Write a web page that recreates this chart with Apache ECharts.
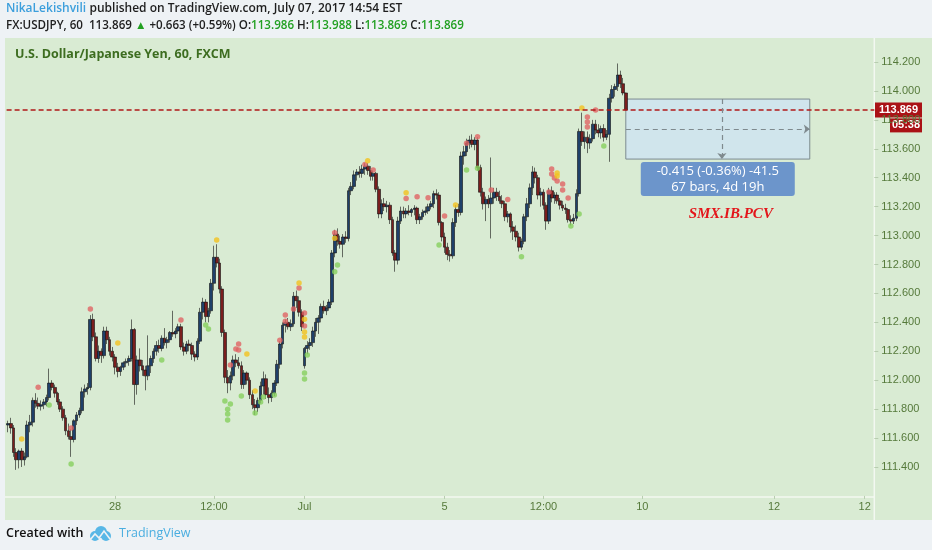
<!DOCTYPE html>
<html><head><meta charset="utf-8">
<script src="https://cdn.jsdelivr.net/npm/echarts/dist/echarts.min.js"></script>
<style>html,body{margin:0;padding:0;background:#eef2f5;}#c{width:932px;height:550px;}</style>
</head><body><div id="c"></div><script>
// ---- data (USDJPY, 60 min, FXCM) ----
const opens = [111.69,111.70,111.67,111.50,111.45,111.51,111.45,111.47,111.69,111.71,
111.86,111.84,111.82,111.83,111.85,111.88,111.98,111.95,111.91,111.85,
111.80,111.74,111.65,111.61,111.59,111.72,111.76,111.79,111.92,111.94,
111.95,112.42,112.30,112.15,112.20,112.17,112.34,112.28,112.20,112.16,
112.09,112.06,112.09,112.12,112.13,112.15,112.35,111.97,112.14,112.10,
112.07,112.03,112.10,112.15,112.20,112.24,112.22,112.29,112.26,112.28,
112.33,112.32,112.34,112.37,112.23,112.20,112.25,112.24,112.18,112.16,
112.27,112.47,112.54,112.44,112.48,112.67,112.85,112.81,112.63,112.33,
112.02,111.98,112.03,112.14,112.12,112.10,111.97,112.05,112.00,111.90,
111.83,111.81,111.86,111.96,112.01,111.90,111.88,111.91,111.98,112.11,
112.25,112.38,112.40,112.37,112.39,112.58,112.55,112.47,112.10,112.22,
112.24,112.26,112.34,112.40,112.43,112.51,112.48,112.50,112.54,112.88,
113.01,112.96,112.94,112.99,112.98,113.31,113.34,113.42,113.44,113.43,
113.46,113.48,113.45,113.41,113.43,113.32,113.15,113.22,113.20,113.21,
113.11,112.88,112.83,113.10,113.17,113.15,113.17,113.16,113.18,113.19,
113.11,113.13,113.16,113.17,113.20,113.22,113.29,113.28,113.09,112.99,
112.92,112.87,112.86,113.09,113.18,113.16,113.55,113.58,113.64,113.66,
113.63,113.66,113.47,113.30,113.22,113.25,113.22,113.26,113.30,113.27,
113.24,113.22,113.13,113.15,113.06,113.03,112.99,112.92,112.96,113.13,
113.22,113.33,113.44,113.40,113.28,113.30,113.21,113.10,113.31,113.26,
113.28,113.24,113.21,113.19,113.18,113.11,113.10,113.12,113.29,113.72,
113.65,113.68,113.64,113.67,113.77,113.73,113.71,113.74,113.68,113.70,
113.95,114.01,114.03,114.11,114.05,113.986];
const closes = [111.70,111.67,111.50,111.45,111.51,111.45,111.47,111.69,111.71,111.86,
111.84,111.82,111.83,111.85,111.88,111.98,111.95,111.91,111.85,111.80,
111.74,111.65,111.61,111.59,111.72,111.76,111.79,111.92,111.94,111.95,
112.42,112.30,112.15,112.20,112.17,112.34,112.28,112.20,112.16,112.09,
112.06,112.09,112.12,112.13,112.15,112.35,111.97,112.14,112.10,112.07,
112.03,112.10,112.15,112.20,112.24,112.22,112.29,112.26,112.28,112.33,
112.32,112.34,112.37,112.23,112.20,112.25,112.24,112.18,112.16,112.27,
112.47,112.54,112.44,112.48,112.67,112.85,112.81,112.63,112.33,112.02,
111.98,112.03,112.14,112.12,112.10,111.97,112.05,112.00,111.90,111.83,
111.81,111.86,111.96,112.01,111.90,111.88,111.91,111.98,112.11,112.25,
112.38,112.40,112.37,112.39,112.58,112.55,112.47,112.37,112.22,112.24,
112.26,112.34,112.40,112.43,112.51,112.48,112.50,112.54,112.88,113.01,
112.96,112.94,112.99,112.98,113.31,113.34,113.42,113.44,113.43,113.46,
113.48,113.45,113.41,113.43,113.32,113.15,113.22,113.20,113.21,113.11,
112.88,112.83,113.10,113.17,113.15,113.17,113.16,113.18,113.19,113.11,
113.13,113.16,113.17,113.20,113.22,113.29,113.28,113.09,112.99,112.92,
112.87,112.86,113.09,113.18,113.16,113.55,113.58,113.64,113.66,113.63,
113.66,113.47,113.30,113.22,113.25,113.22,113.26,113.30,113.27,113.24,
113.22,113.13,113.15,113.06,113.03,112.99,112.92,112.96,113.13,113.22,
113.33,113.44,113.40,113.28,113.30,113.21,113.10,113.31,113.26,113.28,
113.24,113.21,113.19,113.18,113.11,113.10,113.12,113.29,113.72,113.65,
113.68,113.64,113.67,113.77,113.73,113.71,113.74,113.68,113.70,113.95,
114.01,114.03,114.11,114.05,113.986,113.869];
const highs = [111.72,111.74,111.69,111.53,111.52,111.53,111.50,111.72,111.76,111.88,
111.91,111.88,111.86,111.87,111.90,112.08,112.00,111.97,111.92,111.87,
111.82,111.76,111.70,111.66,111.73,111.78,111.81,111.95,111.97,111.98,
112.45,112.46,112.33,112.24,112.22,112.37,112.37,112.30,112.23,112.18,
112.12,112.10,112.13,112.15,112.17,112.42,112.36,112.17,112.22,112.14,
112.10,112.31,112.17,112.22,112.27,112.28,112.31,112.36,112.30,112.34,
112.48,112.36,112.39,112.39,112.26,112.27,112.28,112.26,112.20,112.29,
112.50,112.57,112.56,112.50,112.70,112.93,112.94,112.84,112.65,112.35,
112.07,112.06,112.17,112.18,112.16,112.13,112.07,112.06,112.02,111.93,
111.87,111.88,111.99,112.06,112.04,111.95,111.93,112.00,112.14,112.27,
112.40,112.42,112.43,112.42,112.61,112.62,112.58,112.49,112.23,112.27,
112.29,112.37,112.43,112.45,112.53,112.55,112.52,112.56,112.90,113.04,
113.05,113.00,113.01,113.03,113.33,113.37,113.45,113.46,113.48,113.49,
113.50,113.50,113.48,113.45,113.44,113.34,113.25,113.26,113.24,113.23,
113.13,112.90,113.13,113.20,113.20,113.19,113.21,113.19,113.21,113.20,
113.15,113.18,113.20,113.22,113.24,113.31,113.32,113.30,113.10,113.02,
112.95,112.90,113.12,113.21,113.22,113.58,113.62,113.67,113.69,113.70,
113.68,113.68,113.49,113.33,113.27,113.28,113.54,113.33,113.33,113.31,
113.28,113.24,113.17,113.16,113.10,113.07,113.02,112.98,113.15,113.26,
113.36,113.48,113.47,113.42,113.33,113.32,113.23,113.33,113.34,113.30,
113.30,113.26,113.24,113.22,113.19,113.14,113.15,113.32,113.74,113.85,
113.72,113.72,113.70,113.80,113.80,113.77,113.76,113.77,113.73,113.98,
114.04,114.05,114.19,114.14,114.09,113.988];
const lows = [111.64,111.63,111.47,111.38,111.39,111.40,111.41,111.46,111.64,111.68,
111.81,111.80,111.79,111.80,111.82,111.86,111.93,111.88,111.83,111.78,
111.72,111.62,111.59,111.47,111.57,111.69,111.74,111.77,111.88,111.90,
111.93,112.27,112.13,112.12,112.12,112.15,112.25,112.17,112.13,112.04,
112.02,112.03,112.07,112.09,112.10,112.13,111.83,111.90,112.06,112.03,
111.93,112.00,112.05,112.12,112.17,112.19,112.20,112.24,112.22,112.26,
112.30,112.29,112.32,112.21,112.17,112.18,112.20,112.14,112.13,112.14,
112.25,112.42,112.40,112.40,112.46,112.62,112.78,112.60,112.30,111.98,
111.91,111.93,112.00,112.09,112.08,111.94,111.94,111.97,111.87,111.80,
111.76,111.78,111.84,111.90,111.87,111.84,111.85,111.89,111.96,112.08,
112.22,112.33,112.35,112.34,112.37,112.50,112.44,112.34,112.08,112.18,
112.21,112.23,112.30,112.32,112.40,112.46,112.45,112.48,112.52,112.85,
112.93,112.91,112.85,112.95,112.96,113.28,113.32,113.38,113.40,113.40,
113.42,113.42,113.38,113.38,113.30,113.12,113.12,113.17,113.16,113.08,
112.86,112.75,112.80,113.08,113.12,113.12,113.14,113.13,113.14,113.08,
113.08,113.11,113.14,113.15,113.18,113.19,113.25,113.07,112.96,112.88,
112.83,112.82,112.84,113.06,113.13,113.14,113.49,113.55,113.60,113.61,
113.59,113.45,113.27,113.18,113.10,113.19,112.98,113.22,113.24,113.22,
113.19,113.10,113.09,113.02,112.97,112.96,112.89,112.90,112.94,113.10,
113.19,113.28,113.36,113.25,113.20,113.18,113.04,113.08,113.23,113.22,
113.22,113.18,113.17,113.15,113.09,113.07,113.08,113.10,113.27,113.62,
113.60,113.57,113.60,113.65,113.70,113.68,113.67,113.65,113.66,113.51,
113.92,113.96,114.00,114.02,113.97,113.869];
// indicator dots: [bar index, price]
const dotsRed = [[11,111.952],[23,111.669],[30,112.492],[63,112.416],[81,112.105],[83,112.215],[84,112.250],[84,112.208],[99,112.277],[101,112.450],[101,112.408],[104,112.492],[106,112.637],[108,112.464],[108,112.374],[119,113.020],[130,113.492],[133,113.453],[145,113.257],[149,113.268],[153,113.262],[159,113.135],[167,113.638],[171,113.683],[176,113.315],[182,113.250],[197,113.301],[198,113.46],[198,113.425],[199,113.398],[200,113.377],[202,113.356],[202,113.315],[204,113.259],[211,113.82],[211,113.785],[211,113.75],[214,113.868]];
const dotsYellow = [[5,111.593],[40,112.257],[76,112.969],[87,112.181],[90,111.925],[106,112.672],[108,112.422],[108,112.333],[108,112.298],[119,112.981],[131,113.517],[145,113.296],[163,113.211],[200,113.432],[200,113.412],[209,113.882]];
const dotsGreen = [[15,111.828],[23,111.420],[56,112.139],[72,112.381],[73,112.354],[79,111.856],[80,111.80],[80,111.766],[80,111.724],[81,111.835],[85,111.89],[90,111.773],[92,111.849],[93,111.883],[97,111.897],[109,112.174],[108,112.049],[108,112.008],[119,112.750],[120,112.796],[157,112.934],[167,113.453],[171,113.465],[187,112.853],[205,113.066],[208,113.149],[217,113.619]];
const lastPrice = 113.869;
const measureStart = 225, measureBars = 67, measureTop = 113.944, measureBottom = 113.529;
const measureText = ['-0.415 (-0.36%) -41.5', '67 bars, 4d 19h'];
const timeLabels = {'2017-06-28 00:00':'28','2017-06-29 12:00':'12:00','2017-07-02 21:00':'Jul','2017-07-05 00:00':'5','2017-07-06 12:00':'12:00','2017-07-10 00:00':'10','2017-07-12 00:00':'12','2017-07-13 09:00':'12'};
const yTicks = {min:111.2, max:114.4, step:0.2};
const slotCount = 316; // trading-hour slots shown on the time axis

// ---- hourly trading-session categories (UTC, weekend excluded) ----
function pad(n){return (n<10?'0':'')+n;}
const categories = [];
let t = Date.UTC(2017,5,26,9);
while (categories.length < slotCount) {
  const d = new Date(t), wd = d.getUTCDay(), h = d.getUTCHours();
  const closed = (wd===5 && h>=21) || wd===6 || (wd===0 && h<21);
  if (!closed) categories.push(d.getUTCFullYear()+'-'+pad(d.getUTCMonth()+1)+'-'+pad(d.getUTCDate())+' '+pad(h)+':00');
  t += 3600000;
}
const candles = opens.map((o,i)=>[o, closes[i], lows[i], highs[i]]);

const chart = echarts.init(document.getElementById('c'), null, {renderer:'canvas'});
const axisColor = '#55793a';
const showLabel = (idx, val) => timeLabels[val] !== undefined;
const mid = Math.round(measureStart + measureBars/2 + 1);
const option = {
  backgroundColor: '#eef2f5',
  animation: false,
  grid: {left: 6.6, right: 57.7, top: 33.1, bottom: 54.1},
  xAxis: {type:'category', data: categories, boundaryGap: true,
    axisLine:{show:false},
    axisTick:{show:true, interval: showLabel, alignWithLabel:true, length:3, lineStyle:{color:'#b8cdb0'}},
    axisLabel:{interval: showLabel, formatter: v => timeLabels[v] || '', color: axisColor, fontSize: 11, fontFamily:'Liberation Sans', margin: 6},
    splitLine:{show:false}},
  yAxis: {type:'value', position:'right', min: yTicks.min, max: yTicks.max, interval: yTicks.step, scale:true,
    axisLine:{show:false},
    axisTick:{show:true, length:4, lineStyle:{color:'#b8cdb0'}},
    axisLabel:{formatter: v => v.toFixed(3), color: axisColor, fontSize: 11, fontFamily:'Liberation Sans', margin: 7, showMinLabel:false, showMaxLabel:false},
    splitLine:{show:false}},
  series: [
    {type:'candlestick', data: candles, barWidth: 3.2,
      itemStyle:{color:'#1f406a', color0:'#7a1e1e', borderColor:'#101010', borderColor0:'#101010', borderWidth:0.6},
      markLine:{silent:true, symbol:['none','none'], label:{show:false},
        data:[
          {yAxis: lastPrice, lineStyle:{color:'#b01818', type:[5,3], width:1.6}},
          [{coord:[measureStart, (measureTop+measureBottom)/2], symbol:'none', lineStyle:{color:'#7f8a8e', type:[5,4], width:1.2}},
           {coord:[measureStart+measureBars, (measureTop+measureBottom)/2], symbol:'arrow', symbolSize:[7,6]}],
          [{coord:[mid, measureTop], symbol:'none', lineStyle:{color:'#7f8a8e', type:[5,4], width:1.2}},
           {coord:[mid, measureBottom], symbol:'arrow', symbolSize:[7,6]}]
        ]},
      markArea:{silent:true, itemStyle:{color:'rgba(206,228,238,0.9)', borderColor:'#7d8b90', borderWidth:1},
        data:[[{xAxis: measureStart, yAxis: measureTop}, {xAxis: measureStart+measureBars, yAxis: measureBottom}]]}
    },
    {type:'scatter', data: dotsRed, symbolSize: 5.5, itemStyle:{color:'#e06464'}, z:3},
    {type:'scatter', data: dotsYellow, symbolSize: 5.5, itemStyle:{color:'#f2c21e'}, z:3},
    {type:'scatter', data: dotsGreen, symbolSize: 5.5, itemStyle:{color:'#86cf5e'}, z:3}
  ]
};
chart.setOption(option);

const pTop = chart.convertToPixel({gridIndex:0}, [measureStart, measureTop]);
const pBot = chart.convertToPixel({gridIndex:0}, [measureStart+measureBars, measureBottom]);
const cx = (pTop[0]+pBot[0])/2;
const yLast = chart.convertToPixel({gridIndex:0}, [0, lastPrice])[1];
const gridRight = 874.3;
const F = '"Open Sans", "Noto Sans", sans-serif';
chart.setOption({graphic: [
  {type:'rect', z:-100, shape:{x:5, y:38, width:927, height:482}, style:{fill:'#d9ebd3'}},
  {type:'line', z:-99, shape:{x1:gridRight, y1:38, x2:gridRight, y2:520}, style:{stroke:'#f3f8f1', lineWidth:1.5}},
  {type:'line', z:-99, shape:{x1:5, y1:497, x2:gridRight, y2:497}, style:{stroke:'#f3f8f1', lineWidth:1.5}},
  // header
  {type:'text', x:6, y:3, style:{text:'{a|NikaLekishvili} {b|published on TradingView.com, July 07, 2017 14:54 EST}',
    rich:{a:{fill:'#3c9fdc', fontSize:12, fontWeight:600, fontFamily:F}, b:{fill:'#1e1e1e', fontSize:12, fontWeight:600, fontFamily:F}}}},
  {type:'text', x:6, y:20, style:{text:'{k|FX:USDJPY, 60  113.869 }{g|▲}{k| +0.663 (+0.59%) O:}{g|113.986}{k| H:}{g|113.988}{k| L:}{g|113.869}{k| C:}{g|113.869}',
    rich:{k:{fill:'#1e1e1e', fontSize:11.6, fontWeight:600, fontFamily:F}, g:{fill:'#22a022', fontSize:11.6, fontWeight:600, fontFamily:F}}}},
  {type:'text', x:15, y:48, style:{text:'U.S. Dollar/Japanese Yen, 60, FXCM', fill:'#3d6d20', fontSize:12.5, fontWeight:'bold', fontFamily:F}},
  // price tag
  {type:'rect', shape:{x:875, y:yLast-7.5, width:47, height:15}, style:{fill:'#aa1216'}},
  {type:'text', x:898.5, y:yLast, style:{text:lastPrice.toFixed(3), fill:'#fff', fontSize:11, fontWeight:'bold', fontFamily:'Liberation Sans', align:'center', verticalAlign:'middle'}},
  {type:'rect', shape:{x:890, y:yLast+8.5, width:32, height:14}, style:{fill:'#aa1216'}},
  {type:'text', x:906, y:yLast+15.5, style:{text:'05:38', fill:'#fff', fontSize:11, fontWeight:'bold', fontFamily:'Liberation Sans', align:'center', verticalAlign:'middle'}},
  // measurement label
  {type:'rect', shape:{x:cx-77, y:pBot[1]+3, width:154, height:34, r:3}, style:{fill:'#6c95cb'}},
  {type:'text', x:cx, y:pBot[1]+12, style:{text:measureText[0], fill:'#fff', fontSize:13, fontFamily:F, align:'center', verticalAlign:'middle'}},
  {type:'text', x:cx, y:pBot[1]+28, style:{text:measureText[1], fill:'#fff', fontSize:13, fontFamily:F, align:'center', verticalAlign:'middle'}},
  {type:'text', x:cx+13, y:pBot[1]+55, style:{text:'SMX.IB.PCV', fill:'#e3161b', fontSize:15, fontStyle:'italic', fontWeight:'bold', fontFamily:'Liberation Serif', align:'center', verticalAlign:'middle'}},
  // footer
  {type:'text', x:6, y:527, style:{text:'Created with', fill:'#111', fontSize:12.5, fontWeight:600, fontFamily:F}},
  {type:'circle', shape:{cx:95, cy:536, r:5}, style:{fill:'#58b7e6'}},
  {type:'circle', shape:{cx:101, cy:532, r:6}, style:{fill:'#58b7e6'}},
  {type:'circle', shape:{cx:106, cy:536, r:5}, style:{fill:'#58b7e6'}},
  {type:'polyline', shape:{points:[[90,540],[95,534],[99,538],[104,531],[110,539]]}, style:{stroke:'#eef2f5', lineWidth:1.6, fill:null}},
  {type:'text', x:119, y:527, style:{text:'TradingView', fill:'#4aaee0', fontSize:12.5, fontFamily:F}}
]});
</script></body></html>
